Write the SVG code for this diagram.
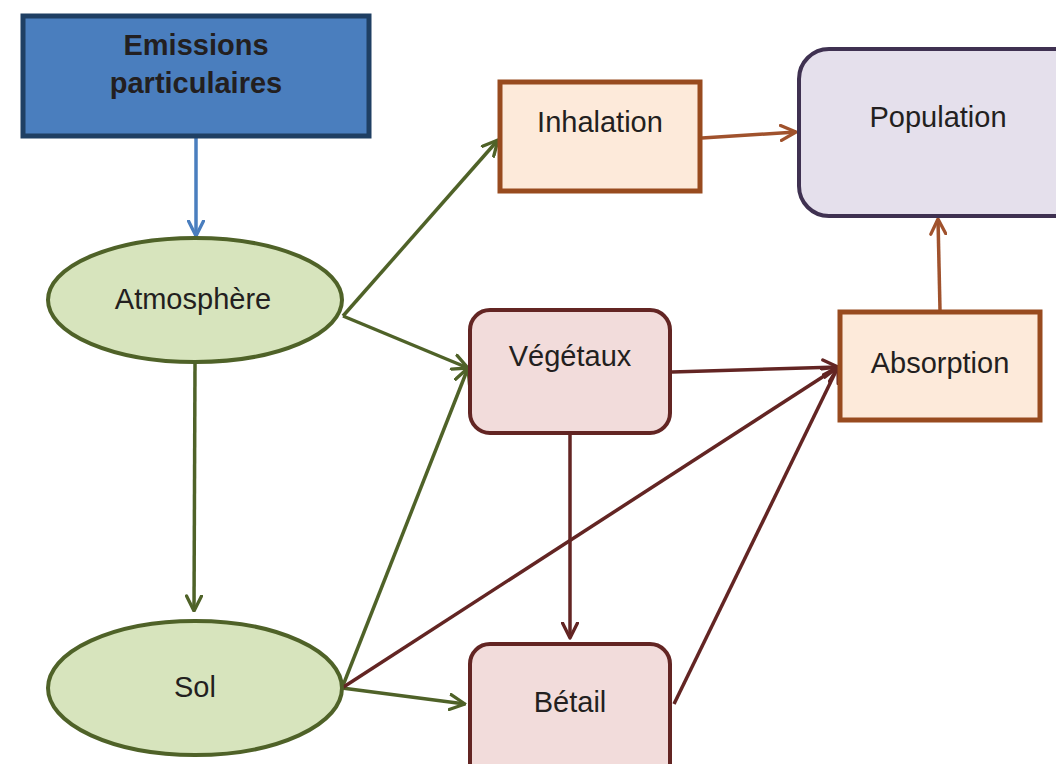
<svg xmlns="http://www.w3.org/2000/svg" width="1056" height="764" viewBox="0 0 1056 764">
<style>
.t{font-family:"Liberation Sans",Arial,sans-serif;font-size:29px;fill:#231F20;text-anchor:middle}
.b{font-weight:bold}
.g{stroke:#4F6228;stroke-width:3.5;fill:none}
.r{stroke:#632523;stroke-width:3.5;fill:none}
.o{stroke:#A0522D;stroke-width:3.5;fill:none}
.u{stroke:#4A7EBE;stroke-width:3.5;fill:none}
</style>
<defs>
<marker id="mg" viewBox="0 0 12 12" refX="11" refY="6" markerWidth="18" markerHeight="18" markerUnits="userSpaceOnUse" orient="auto"><path d="M1,1 L11,6 L1,11" fill="none" stroke="#4F6228" stroke-width="2.2" stroke-linecap="round" stroke-linejoin="round"/></marker>
<marker id="mr" viewBox="0 0 12 12" refX="11" refY="6" markerWidth="18" markerHeight="18" markerUnits="userSpaceOnUse" orient="auto"><path d="M1,1 L11,6 L1,11" fill="none" stroke="#632523" stroke-width="2.2" stroke-linecap="round" stroke-linejoin="round"/></marker>
<marker id="mo" viewBox="0 0 12 12" refX="11" refY="6" markerWidth="18" markerHeight="18" markerUnits="userSpaceOnUse" orient="auto"><path d="M1,1 L11,6 L1,11" fill="none" stroke="#A0522D" stroke-width="2.2" stroke-linecap="round" stroke-linejoin="round"/></marker>
<marker id="mu" viewBox="0 0 12 12" refX="11" refY="6" markerWidth="18" markerHeight="18" markerUnits="userSpaceOnUse" orient="auto"><path d="M1,1 L11,6 L1,11" fill="none" stroke="#4A7EBE" stroke-width="2.2" stroke-linecap="round" stroke-linejoin="round"/></marker>
</defs>
<rect width="1056" height="764" fill="#FFFFFF"/>
<g id="connectors">
<line class="u" x1="196" y1="138" x2="196" y2="236" marker-end="url(#mu)"/>
<line class="g" x1="343" y1="316" x2="498" y2="140" marker-end="url(#mg)"/>
<line class="g" x1="343" y1="316" x2="468" y2="368" marker-end="url(#mg)"/>
<line class="g" x1="195" y1="364" x2="194" y2="611" marker-end="url(#mg)"/>
<line class="g" x1="342" y1="688" x2="468" y2="368" marker-end="url(#mg)"/>
<line class="g" x1="342" y1="688" x2="465" y2="704" marker-end="url(#mg)"/>
<line class="r" x1="672" y1="372" x2="838" y2="367" marker-end="url(#mr)"/>
<line class="r" x1="342" y1="688" x2="838" y2="367" marker-end="url(#mr)"/>
<line class="r" x1="570" y1="435" x2="570" y2="638" marker-end="url(#mr)"/>
<line class="r" x1="674" y1="704" x2="838" y2="367" marker-end="url(#mr)"/>
<line class="o" x1="702" y1="138" x2="796" y2="132" marker-end="url(#mo)"/>
<line class="o" x1="940" y1="310" x2="938" y2="219" marker-end="url(#mo)"/>
</g>
<g id="emissions">
<rect x="23" y="16" width="346" height="120" fill="#4A7EBE" stroke="#1F3F63" stroke-width="5"/>
<text class="t b" x="196" y="55">Emissions</text>
<text class="t b" x="196" y="93">particulaires</text>
</g>
<g id="atmosphere">
<ellipse cx="195" cy="300" rx="147" ry="62" fill="#D7E4BD" stroke="#4F6228" stroke-width="4"/>
<text class="t" x="193" y="309">Atmosphère</text>
</g>
<g id="sol">
<ellipse cx="195" cy="688" rx="147" ry="67" fill="#D7E4BD" stroke="#4F6228" stroke-width="4"/>
<text class="t" x="195" y="697">Sol</text>
</g>
<g id="inhalation">
<rect x="500" y="82" width="200" height="109" fill="#FDEADA" stroke="#984B1F" stroke-width="5"/>
<text class="t" x="600" y="132">Inhalation</text>
</g>
<g id="population">
<rect x="799" y="49" width="290" height="167" rx="30" fill="#E5E0EC" stroke="#3F3151" stroke-width="4"/>
<text class="t" x="938" y="127">Population</text>
</g>
<g id="vegetaux">
<rect x="470" y="310" width="200" height="123" rx="20" fill="#F2DCDB" stroke="#632523" stroke-width="4"/>
<text class="t" x="570" y="366">Végétaux</text>
</g>
<g id="betail">
<rect x="470" y="644" width="200" height="140" rx="20" fill="#F2DCDB" stroke="#632523" stroke-width="4"/>
<text class="t" x="570" y="712">Bétail</text>
</g>
<g id="absorption">
<rect x="840" y="312" width="200" height="108" fill="#FDEADA" stroke="#984B1F" stroke-width="5"/>
<text class="t" x="940" y="373">Absorption</text>
</g>
</svg>
